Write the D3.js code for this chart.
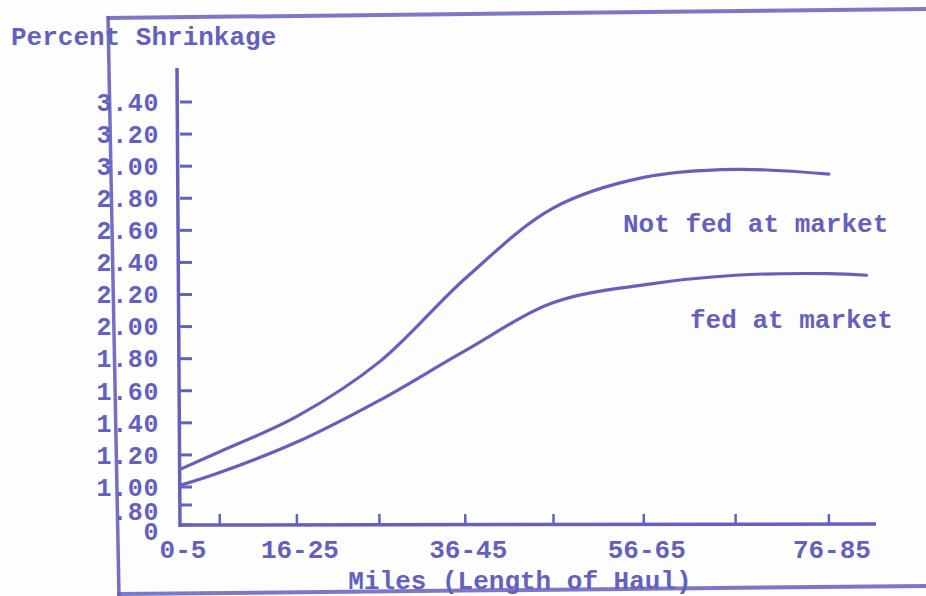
<!DOCTYPE html>
<html>
<head>
<meta charset="utf-8">
<script src="https://cdn.jsdelivr.net/npm/d3@7"></script>
<style>
  html, body { margin: 0; padding: 0; background: #fdfdfd; }
  svg { display: block; }
  text { font-family: "Liberation Mono", "DejaVu Sans Mono", monospace; font-weight: bold; fill: #6461bd; }
</style>
</head>
<body>
<svg id="chart" width="926" height="596"></svg>
<script>
// ---- data ----
const categories = ["0-5", "6-15", "16-25", "26-35", "36-45", "46-55", "56-65", "66-75", "76-85"];
const milesFrom  = [0, 6, 16, 26, 36, 46, 56, 66, 76];
const labeledCategories = ["0-5", "16-25", "36-45", "56-65", "76-85"];
const notFedAtMarket = [1.11, 1.22, 1.44, 1.78, 2.30, 2.74, 2.93, 2.98, 2.95];
const fedAtMarket    = [1.01, 1.09, 1.28, 1.54, 1.85, 2.15, 2.26, 2.32, 2.33];
const fedTailMiles   = [80];
const fedTailValues  = [2.32];
const yTickValues = [3.4, 3.2, 3.0, 2.8, 2.6, 2.4, 2.2, 2.0, 1.8, 1.6, 1.4, 1.2, 1.0, 0.8, 0];
const yTickLabels = ["3.40", "3.20", "3.00", "2.80", "2.60", "2.40", "2.20", "2.00", "1.80", "1.60", "1.40", "1.20", "1.00", ".80", "0"];
const yTitle = "Percent Shrinkage";
const xTitle = "Miles (Length of Haul)";
const seriesLabels = ["Not fed at market", "fed at market"];

// ---- layout ----
const ink = "#6461bd";
const svg = d3.select("#chart");
const axisX = 180;
const x = d3.scalePow().exponent(1.1).domain([0, 81]).range([axisX, 876]);
const y = d3.scaleLinear().domain([0, 0.8, 1.0, 3.4]).range([525, 505, 487, 102]);
const baseY = y(0);

// page frame (hand-drawn border)
svg.append("line").attr("x1", 107).attr("y1", 18).attr("x2", 926).attr("y2", 9)
  .attr("stroke", ink).attr("stroke-width", 4).attr("stroke-opacity", 0.85);
svg.append("line").attr("x1", 108).attr("y1", 16).attr("x2", 119).attr("y2", 596)
  .attr("stroke", ink).attr("stroke-width", 3.5).attr("stroke-opacity", 0.9);
svg.append("line").attr("x1", 117).attr("y1", 594).attr("x2", 926).attr("y2", 586)
  .attr("stroke", ink).attr("stroke-width", 4).attr("stroke-opacity", 0.85);

// y axis line
svg.append("line").attr("x1", axisX - 3).attr("y1", 68).attr("x2", axisX).attr("y2", baseY + 2)
  .attr("stroke", ink).attr("stroke-width", 3.5);
// x axis line
svg.append("line").attr("x1", axisX).attr("y1", baseY).attr("x2", x.range()[1]).attr("y2", baseY - 1)
  .attr("stroke", ink).attr("stroke-width", 3.5);

// y ticks and labels
const yt = svg.append("g").selectAll("g").data(yTickValues).join("g");
yt.append("line")
  .attr("x1", axisX).attr("x2", axisX + 12)
  .attr("y1", d => y(d)).attr("y2", d => y(d))
  .attr("stroke", ink).attr("stroke-width", 3);
yt.append("text")
  .attr("x", 159).attr("y", (d) => y(d) + (d < 0.9 ? 6 : 0))
  .attr("dy", "0.35em").attr("text-anchor", "end")
  .style("font-size", "25px").style("letter-spacing", "0.6px")
  .text((d, i) => yTickLabels[i]);

// x ticks (upward)
svg.append("g").selectAll("line").data(milesFrom.slice(1)).join("line")
  .attr("x1", d => x(d)).attr("x2", d => x(d))
  .attr("y1", baseY).attr("y2", baseY - 11)
  .attr("stroke", ink).attr("stroke-width", 2.5);

// x labels
svg.append("g").selectAll("text").data(labeledCategories).join("text")
  .attr("x", d => x(milesFrom[categories.indexOf(d)]) + 3)
  .attr("y", baseY + 33)
  .attr("text-anchor", "middle")
  .style("font-size", "26px")
  .text(d => d);

// titles
svg.append("text").attr("x", 11).attr("y", 45).style("font-size", "26px").text(yTitle);
svg.append("text").attr("x", 520).attr("y", 589).attr("text-anchor", "middle").style("font-size", "26px").text(xTitle);

// curves
const line = d3.line().x(d => x(d[0])).y(d => y(d[1])).curve(d3.curveCatmullRom.alpha(0.5));
const notFedPts = milesFrom.map((m, i) => [m, notFedAtMarket[i]]);
const fedPts = milesFrom.map((m, i) => [m, fedAtMarket[i]])
  .concat(fedTailMiles.map((m, i) => [m, fedTailValues[i]]));

svg.append("path").datum(notFedPts).attr("d", line)
  .attr("fill", "none").attr("stroke", ink).attr("stroke-width", 3.2).attr("stroke-linecap", "round");
svg.append("path").datum(fedPts).attr("d", line)
  .attr("fill", "none").attr("stroke", ink).attr("stroke-width", 3.2).attr("stroke-linecap", "round");

// series labels
svg.append("text").attr("x", 623).attr("y", 232).style("font-size", "26px").text(seriesLabels[0]);
svg.append("text").attr("x", 690).attr("y", 328).style("font-size", "26px").text(seriesLabels[1]);
</script>
</body>
</html>
